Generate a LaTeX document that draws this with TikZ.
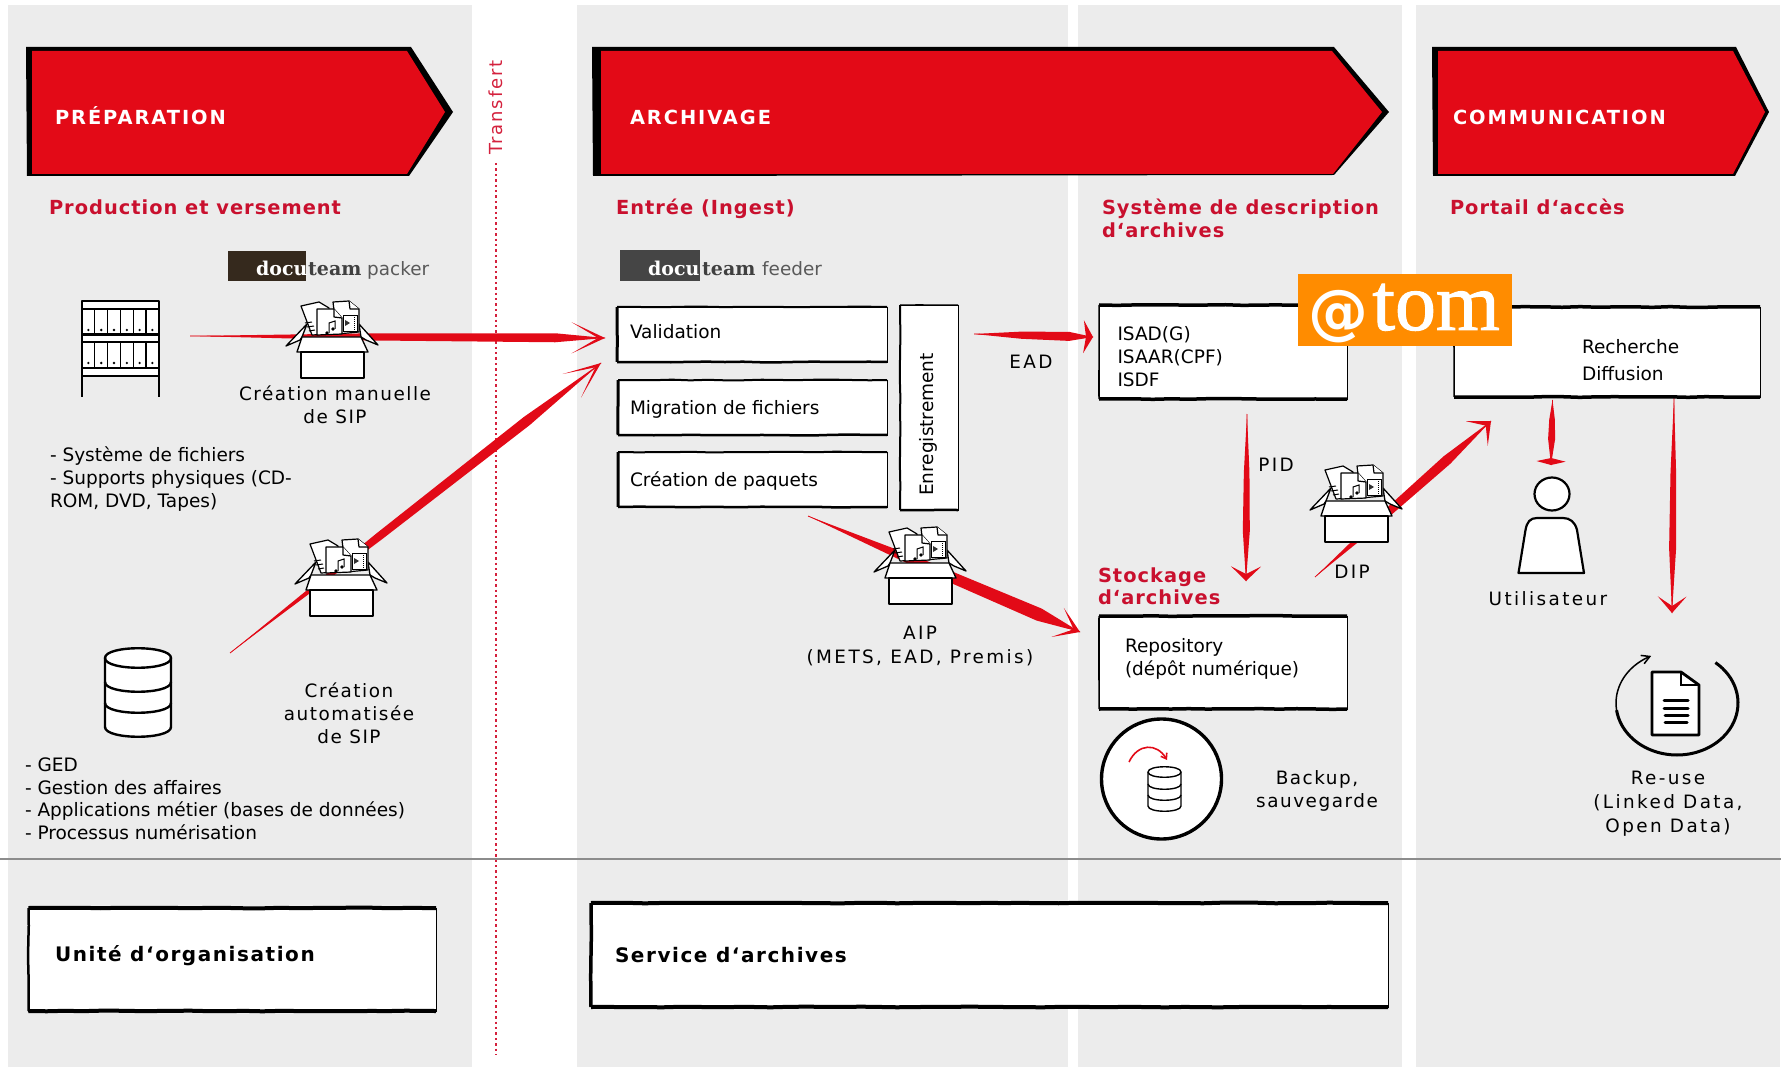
\documentclass[tikz,border=0pt]{standalone}
\usepackage{fontspec}
\usetikzlibrary{calc,fit,arrows.meta,decorations.pathmorphing,shapes.geometric}
\setmainfont{DejaVu Sans}
\newfontfamily\spfont[LetterSpace=8.3]{DejaVu Sans}
\newfontfamily\spwide[LetterSpace=13]{DejaVu Sans}
\newfontfamily\trfont[LetterSpace=10]{DejaVu Sans}
\newfontfamily\bspfont[LetterSpace=5.2]{DejaVu Sans}
\newfontfamily\wspfont[LetterSpace=10]{DejaVu Sans}
\newfontfamily\kspfont[LetterSpace=7.8]{DejaVu Sans}
\newfontfamily\serfont{DejaVu Serif}
\newfontfamily\atomser[FakeBold=1.2]{Liberation Serif}
\definecolor{panelgray}{HTML}{ECECEC}
\definecolor{arrowred}{HTML}{E20A17}
\definecolor{headred}{HTML}{C9102E}
\definecolor{chevred}{HTML}{E30A17}
\definecolor{transred}{HTML}{D4213D}
\definecolor{atomorange}{HTML}{FF8C00}
\newcommand{\skarrow}[6]{% from, to, width, peak fraction, barb length, barb angle
  \draw[arrowred,line width=0.8pt] (#1) -- (#2);
  \path ($(#1)!#4!(#2)$) coordinate (tmpm) ($(#1)!0.5*#4!(#2)$) coordinate (tmpq);
  \fill[arrowred] (#1) -- ($(tmpq)!0.4*#3!90:(#2)$) -- ($(tmpm)!#3/2!90:(#2)$) -- (#2) -- ($(tmpm)!#3/2!-90:(#2)$) -- ($(tmpq)!0.4*#3!-90:(#2)$) -- cycle;
  \fill[arrowred] (#2) -- ($(#2)!#5!#6:(#1)$) -- ($(#2)!7pt!(#1)$) -- cycle;
  \fill[arrowred] (#2) -- ($(#2)!#5!-#6:(#1)$) -- ($(#2)!7pt!(#1)$) -- cycle;
}
\newcommand{\skbox}[8]{% name, x1,y1,x2,y2, top, left, bottom
  \path (#2,#3) coordinate (#1-a) (#4,#5) coordinate (#1-b);
  \node[fit=(#1-a)(#1-b),inner sep=0pt,outer sep=0pt,fill=white,draw=black,line width=0.9pt] (#1) {};
  \draw[rough,line width=#6pt] (#1.north west) -- (#1.north east);
  \draw[rough,line width=#7pt] (#1.north west) -- (#1.south west);
  \draw[rough,line width=#8pt] (#1.south west) -- (#1.south east);
}
\tikzset{
  x=1pt,y=-1pt,
  rough/.style={black,line cap=butt,decorate,decoration={random steps,segment length=18pt,amplitude=0.35pt}},
  panel/.style={fill=panelgray,draw=none},
  bodytxt/.style={font=\fontsize{18.5}{22.6}\selectfont,anchor=base west,inner sep=0pt,outer sep=0pt,align=left},
  sptxt/.style={font=\spfont\fontsize{18.4}{23}\selectfont,anchor=base,inner sep=0pt,outer sep=0pt,align=center},
  spwtxt/.style={font=\spwide\fontsize{18.4}{24}\selectfont,anchor=base,inner sep=0pt,outer sep=0pt,align=center},
  headtxt/.style={font=\bspfont\bfseries\fontsize{19.4}{23}\selectfont,text=headred,anchor=base west,inner sep=0pt,outer sep=0pt,align=left},
  whitetxt/.style={font=\wspfont\bfseries\fontsize{19.4}{23}\selectfont,text=white,anchor=base west,inner sep=0pt,outer sep=0pt},
  blacktxt/.style={font=\kspfont\bfseries\fontsize{20}{23}\selectfont,text=black,anchor=base west,inner sep=0pt,outer sep=0pt},
  ink/.style={draw=black,line width=1.3pt,fill=white,line join=round},
  thinink/.style={draw=black,line width=1.2pt,fill=white,line join=round},
  sipbox/.pic={
    \draw[ink] (-25,-13) -- (-46,9) -- (-32,3) -- (-30,0) -- cycle;
    \draw[ink] (27,-13) -- (46,8) -- (34,3) -- (29,0) -- cycle;
    \draw[thinink] (-31,-31) -- (-13,-35) -- (-3,-29) -- (-3,-3) -- (-20,-2) -- cycle;
    \draw[line width=1pt] (-27,-14) -- (-20,-15) (-25,-10) -- (-18,-11) (-23,-6) -- (-17,-7);
    \draw[thinink] (1,-35) -- (17,-36) -- (27,-28) -- (27,-5) -- (5,-3) -- cycle;
    \draw[thinink] (17,-36) -- (18,-28) -- (27,-28);
    \draw[thinink] (-15,-28) -- (2,-28) -- (10,-19) -- (10,-3) -- (-15,-2) -- cycle;
    \draw[thinink] (2,-28) -- (2,-20) -- (10,-19);
    \draw[line width=0.7pt] (11,-22) rectangle (25,-6);
    \fill[black!80] (13,-17) -- (18,-14) -- (13,-11) -- cycle;
    \draw[line width=1pt,dash pattern=on 1pt off 1pt] (22.5,-22) -- (22.5,-6);
    \draw[line width=1pt] (-3,-4) -- (-3,-14) -- (3,-16) -- (3,-8);
    \fill (-5,-4) circle (1.8pt) (1,-8) circle (1.8pt);
    \draw[ink] (-30,0) -- (29,0) -- (36,15) -- (-35,15) -- cycle;
    \draw[ink] (-31,15) rectangle (32,41);
    \draw[black,line width=2.2pt] (-31,41) -- (32,41);
  },
  shelfpic/.pic={
    \draw[ink] (0,0) rectangle (77,8);
    \draw[ink] (0,34) rectangle (77,41);
    \draw[ink] (0,67) rectangle (77,75);
    \foreach \yy in {9,42} {
      \fill[white] (0,\yy) rectangle (77,\yy+24);
      \foreach \i in {0,...,6} { \draw[line width=1.1pt] ({\i*12.8},\yy) -- ({\i*12.8},\yy+25); }
      \foreach \i in {0,...,5} { \fill ({\i*12.8+6.4},\yy+20) circle (1.3pt); }
    }
    \draw[line width=2.6pt] (0,0) -- (0,96) (77,0) -- (77,96);
    \draw[line width=2.4pt] (0,0) -- (77,0) (0,33) -- (77,33) (0,41) -- (77,41) (0,67) -- (77,67) (0,75) -- (77,75);
  },
  dbpic/.pic={
    \draw[ink,line width=2.4pt] (-33,10) -- (-33,79) .. controls (-33,92) and (33,92) .. (33,79) -- (33,10) .. controls (33,-3) and (-33,-3) .. (-33,10) -- cycle;
    \draw[line width=2.4pt] (-33,10) .. controls (-33,23) and (33,23) .. (33,10);
    \draw[line width=2.4pt] (-33,34) .. controls (-33,47) and (33,47) .. (33,34);
    \draw[line width=2.4pt] (-33,55) .. controls (-33,68) and (33,68) .. (33,55);
  },
  dbsmall/.pic={
    \draw[ink,line width=1.4pt] (-16.5,5) -- (-16.5,39) .. controls (-16.5,46) and (16.5,46) .. (16.5,39) -- (16.5,5) .. controls (16.5,-2) and (-16.5,-2) .. (-16.5,5) -- cycle;
    \draw[line width=1.4pt] (-16.5,5) .. controls (-16.5,12) and (16.5,12) .. (16.5,5);
    \draw[line width=1.4pt] (-16.5,17) .. controls (-16.5,24) and (16.5,24) .. (16.5,17);
    \draw[line width=1.4pt] (-16.5,28) .. controls (-16.5,35) and (16.5,35) .. (16.5,28);
  }
}
\pgfmathsetseed{7}
\begin{document}
\begin{tikzpicture}
\useasboundingbox (0,0) rectangle (1781,1067);
% panels
\fill[panel] (8,5) rectangle (471.5,1067);
\fill[panel] (577,5) rectangle (1068,1067);
\fill[panel] (1078,5) rectangle (1402,1067);
\fill[panel] (1416,5) rectangle (1780,1067);
% rule and transfer line
\draw[gray!90,line width=2.2pt] (0,859) -- (1781,859);
\coordinate (tr-top) at (496,163);
\coordinate (tr-bot) at (496,1055);
\draw[transred,line width=1.7pt,dash pattern=on 2.4pt off 3pt] (tr-top) -- (tr-bot);
\node[font=\trfont\fontsize{18}{22}\selectfont,text=transred,rotate=90,inner sep=0pt] (transfert) at (496,107.5) {Transfert};
% chevrons
\fill[black] (26,47) -- (411,47) -- (453,112) -- (409,176) -- (27,176) -- cycle;
\fill[chevred] (32,51) -- (407,51) -- (445,112) -- (407,174) -- (32,174) -- cycle;
\fill[black] (592,47) -- (1334,47) -- (1389,112) -- (1334,175) -- (593,176) -- cycle;
\fill[chevred] (601,51) -- (1332,51) -- (1382,112) -- (1333,174) -- (601,174) -- cycle;
\fill[black] (1432,47) -- (1736,47) -- (1769,112) -- (1735,176) -- (1433,176) -- cycle;
\fill[chevred] (1438,51) -- (1733,51) -- (1765,112) -- (1733,174) -- (1438,174) -- cycle;
\node[whitetxt] (prep) at (55,125) {PRÉPARATION};
\node[whitetxt] (arch) at (630,125) {ARCHIVAGE};
\node[whitetxt] (comm) at (1453,125) {COMMUNICATION};
% section titles
\node[headtxt] (t1) at (49,215) {Production et versement};
\node[headtxt] (t2) at (616,215) {Entrée (Ingest)};
\node[headtxt] (t3) at (1102,215) {Système de description};
\node[headtxt] (t3b) at (1102,238) {d‘archives};
\node[headtxt] (t4) at (1450,215) {Portail d‘accès};
\node[headtxt] (t5) at (1098,582) {Stockage};
\node[headtxt] (t5b) at (1098,604) {d‘archives};
% arrow end points
\coordinate (a1s) at (190,336); \coordinate (a1e) at (605,338);
\coordinate (a2s) at (230,653); \coordinate (a2e) at (601,363);
\coordinate (a3s) at (974,334); \coordinate (a3e) at (1093,337);
\coordinate (a4s) at (808,516); \coordinate (a4e) at (1080,632);
\coordinate (a5s) at (1247,414); \coordinate (a5e) at (1246,581);
\coordinate (a6s) at (1315,577); \coordinate (a6e) at (1491,421);
\coordinate (a7s) at (1552.5,400); \coordinate (a7e) at (1551,465);
\coordinate (a8s) at (1674,397); \coordinate (a8e) at (1672,613);
\skarrow{a1s}{a1e}{9pt}{0.88}{37pt}{25}
\skarrow{a2s}{a2e}{10pt}{0.8}{40pt}{22}
\skarrow{a3s}{a3e}{9pt}{0.8}{19pt}{60}
\skarrow{a4s}{a4e}{13pt}{0.85}{29pt}{33}
\skarrow{a5s}{a5e}{7pt}{0.7}{21pt}{46}
\skarrow{a6s}{a6e}{10pt}{0.75}{25pt}{41}
\skarrow{a7s}{a7e}{7pt}{0.6}{15pt}{76}
\skarrow{a8s}{a8e}{7pt}{0.7}{22pt}{41}
% icons
\pic (sip1) at (332,337) {sipbox};
\pic (sip2) at (341,575) {sipbox};
\pic (aip) at (920,563) {sipbox};
\pic (dip) at (1356,501) {sipbox};
\pic (shelf) at (82,301) {shelfpic};
\pic (db) at (138,648) {dbpic};
% docuteam logos
\fill[fill={rgb,255:red,53;green,41;blue,29}] (228,251) rectangle (306,281);
\node[font=\serfont\bfseries\fontsize{19}{22}\selectfont,text=white,anchor=base west,inner sep=0pt] (dp1) at (256,276) {docu};
\node[font=\serfont\bfseries\fontsize{19}{22}\selectfont,text=black!75,anchor=base west,inner sep=0pt] (dp2) at (308,276) {team};
\node[font=\fontsize{18.4}{22}\selectfont,text=black!65,anchor=base west,inner sep=0pt] (dp3) at (367,276) {packer};
\fill[black!73] (620,250) rectangle (700,281);
\node[font=\serfont\bfseries\fontsize{19}{22}\selectfont,text=white,anchor=base west,inner sep=0pt] (df1) at (648,276) {docu};
\node[font=\serfont\bfseries\fontsize{19}{22}\selectfont,text=black!75,anchor=base west,inner sep=0pt] (df2) at (702,276) {team};
\node[font=\fontsize{18.4}{22}\selectfont,text=black!65,anchor=base west,inner sep=0pt] (df3) at (762,276) {feeder};
% boxes
\skbox{val}{617}{307}{887}{362}{2}{3}{2.5}
\skbox{mig}{618}{380}{887}{435}{2}{3}{2.5}
\skbox{cre}{618}{452}{887}{507}{2}{3}{2.5}
\skbox{enr}{900}{305}{958}{510}{1}{2}{2.5}
\skbox{isad}{1099}{305}{1347}{399}{3.5}{1.5}{3.5}
\skbox{rech}{1454}{307}{1760}{397}{3.5}{1.5}{3.5}
\skbox{repo}{1099}{616}{1347}{709}{3.5}{1.5}{3.5}
\skbox{unite}{28.5}{908}{436}{1011}{4}{2.5}{4}
\skbox{serv}{591}{903}{1388}{1007}{4}{3.5}{4}
% box texts
\node[bodytxt] (tv) at (630,339) {Validation};
\node[bodytxt] (tm) at (630,414) {Migration de fichiers};
\node[bodytxt] (tc) at (630,486) {Création de paquets};
\node[bodytxt,anchor=center,rotate=90] (te) at (928,424.5) {Enregistrement};
\node[bodytxt] (ti) at (1117.5,386) {ISAD(G)\\ISAAR(CPF)\\ISDF};
\node[bodytxt,font=\fontsize{18.5}{28}\selectfont] (tr) at (1582,381) {Recherche\\Diffusion};
\node[bodytxt] (trp) at (1125,675) {Repository\\(dépôt numérique)};
\node[blacktxt] (tu) at (55,961) {Unité d‘organisation};
\node[blacktxt] (ts) at (615,962) {Service d‘archives};
% free labels
\node[sptxt] (l1) at (335,423) {Création manuelle\\de SIP};
\node[bodytxt] (l2) at (50,507) {- Système de fichiers\\- Supports physiques (CD-\\ROM, DVD, Tapes)};
\node[sptxt] (l3) at (349,743) {Création\\automatisée\\de SIP};
\node[bodytxt] (l4) at (25,839.5) {- GED\\- Gestion des affaires\\- Applications métier (bases de données)\\- Processus numérisation};
\node[spwtxt] (lead) at (1031,368) {EAD};
\node[spwtxt] (lpid) at (1276,471) {PID};
\node[spwtxt] (ldip) at (1352,578) {DIP};
\node[spwtxt] (laip) at (920,663) {AIP\\(METS, EAD, Premis)};
\node[spwtxt] (luti) at (1548,605) {Utilisateur};
\node[sptxt] (lbak) at (1317,807) {Backup,\\sauvegarde};
\node[spwtxt] (lreu) at (1668,832) {Re-use\\(Linked Data,\\Open Data)};
% atom logo
\node[fill=atomorange,inner sep=0pt,minimum width=213.5pt,minimum height=72pt] (atom) at (1404.75,310) {};
\node[text=white,anchor=base west,inner sep=0pt] (atomt) at (1308,330) {\makebox[64pt][l]{\raisebox{-3pt}{\bfseries\fontsize{60}{64}\selectfont @}}\atomser\fontsize{82}{84}\selectfont tom};
% user
\node[ellipse,draw=black,fill=white,line width=2.2pt,minimum width=35pt,minimum height=33pt,inner sep=0pt] (uhead) at (1552,494) {};
\draw[ink,line width=2.2pt] (1518.5,573) -- (1525.5,530) .. controls (1527,522) and (1530,518) .. (1537,518) -- (1563,518) .. controls (1570,518) and (1575,522) .. (1577,530) -- (1584,573) -- cycle;
% backup
\node[ellipse,draw=black,fill=white,line width=3.4pt,minimum width=120pt,minimum height=120pt,inner sep=0pt] (bcirc) at (1161.5,779) {};
\pic (dbs) at (1164.5,767) {dbsmall};
\coordinate (ba) at (1129,762); \coordinate (bb) at (1167,760);
\draw[arrowred,line width=1.6pt,-{Straight Barb[length=5pt,width=7pt]}] (ba) .. controls (1138,743) and (1157,743) .. (bb);
% reuse
\draw[black,line width=3pt] plot[smooth,domain=-51:172,samples=50] ({1677+61*cos(\x)},{703+52*sin(\x)});
\draw[black,line width=1.5pt,-{Straight Barb[length=8pt,width=9pt]}] plot[smooth,domain=170:245,samples=20] ({1677+61*cos(\x)},{703+52*sin(\x)});
\draw[ink,line width=2.8pt,fill=white] (1652,672) -- (1681,672) -- (1699,685) -- (1699,735) -- (1652,735) -- cycle;
\draw[line width=1.2pt] (1681,672) -- (1681,685) -- (1699,685);
\draw[line width=3pt,line cap=round] (1664,700) -- (1688,700) (1664,708) -- (1688,708) (1665,715) -- (1688,715) (1665,722) -- (1687,722);
\end{tikzpicture}
\end{document}
